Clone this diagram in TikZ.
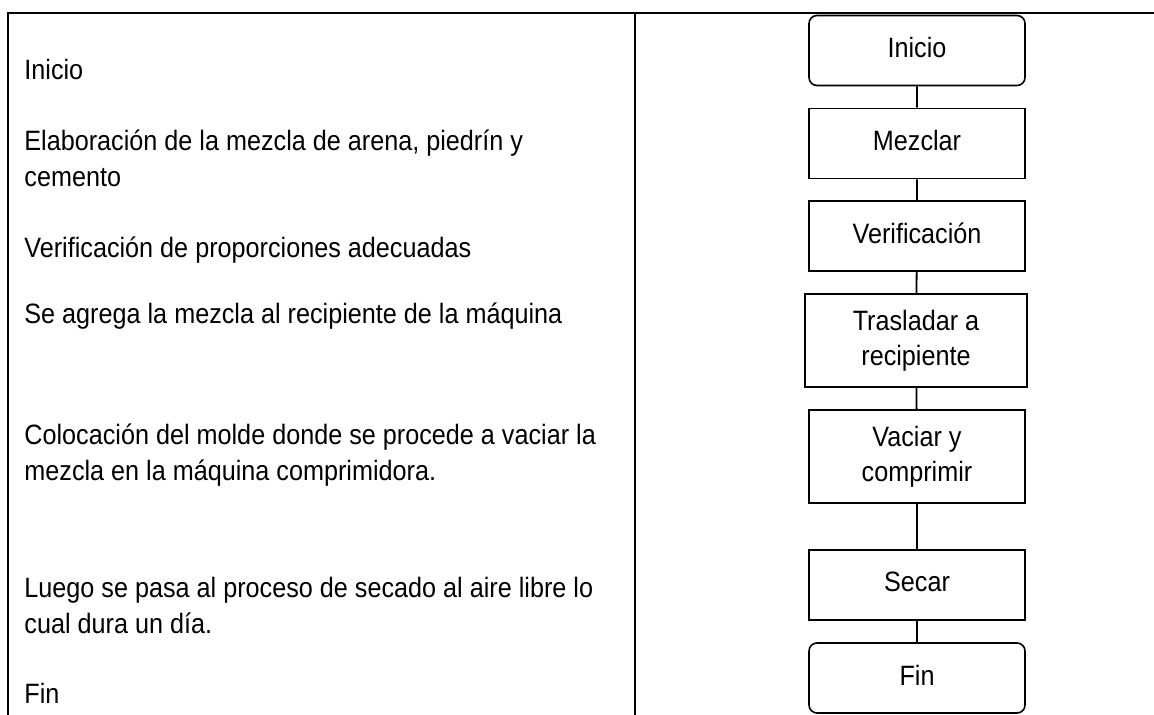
\documentclass[tikz,border=0pt]{standalone}
\usepackage{fontspec}
\setmainfont{Liberation Sans}[FakeStretch=0.9]
\usetikzlibrary{positioning}

\begin{document}
\begin{tikzpicture}[x=0.5pt,y=-0.5pt,
  frame/.style={line width=1.4pt},
  paso/.style={anchor=base west,align=left,inner sep=0pt,font=\fontsize{14}{18}\selectfont},
  caja/.style={draw,line width=0.8pt,minimum width=108pt,minimum height=35pt,inner sep=2pt,text depth=0.3em,align=center,font=\fontsize{14}{17.5}\selectfont},
  extremo/.style={caja,rounded corners=4pt},
  enlace/.style={line width=0.9pt}]
  \useasboundingbox (0,0) rectangle (1154,715);
  % marco de la tabla
  \draw[frame] (8,715) -- (8,13) -- (1154,13);
  \draw[frame] (635,13) -- (635,715);
  % descripcion de los pasos (base = ultima linea)
  \node[paso] (tInicio) at (24,80) {Inicio};
  \node[paso] (tMezcla) at (24,187) {Elaboración de la mezcla de arena, piedrín y\\cemento};
  \node[paso] (tVerif) at (24,258) {Verificación de proporciones adecuadas};
  \node[paso] (tAgrega) at (24,324) {Se agrega la mezcla al recipiente de la máquina};
  \node[paso] (tMolde) at (24,480) {Colocación del molde donde se procede a vaciar la\\mezcla en la máquina comprimidora.};
  \node[paso] (tSecado) at (24,633) {Luego se pasa al proceso de secado al aire libre lo\\cual dura un día.};
  \node[paso] (tFin) at (24,703) {Fin};
  % diagrama de flujo
  \node[extremo] (inicio) at (917,50.5) {Inicio};
  \node[caja] (mezclar) at (917,143.5) {Mezclar};
  \node[caja] (verif) at (917,236) {Verificación};
  \node[caja,minimum width=111pt,minimum height=46.5pt] (trasladar) at (916,340.5) {Trasladar a\\recipiente};
  \node[caja,minimum height=46.5pt] (vaciar) at (917,456.5) {Vaciar y\\comprimir};
  \node[caja] (secar) at (917,585) {Secar};
  \node[extremo] (fin) at (917,678) {Fin};
  \draw[enlace] (inicio) -- (mezclar) -- (verif) -- (trasladar) -- (vaciar) -- (secar) -- (fin);
\end{tikzpicture}
\end{document}
